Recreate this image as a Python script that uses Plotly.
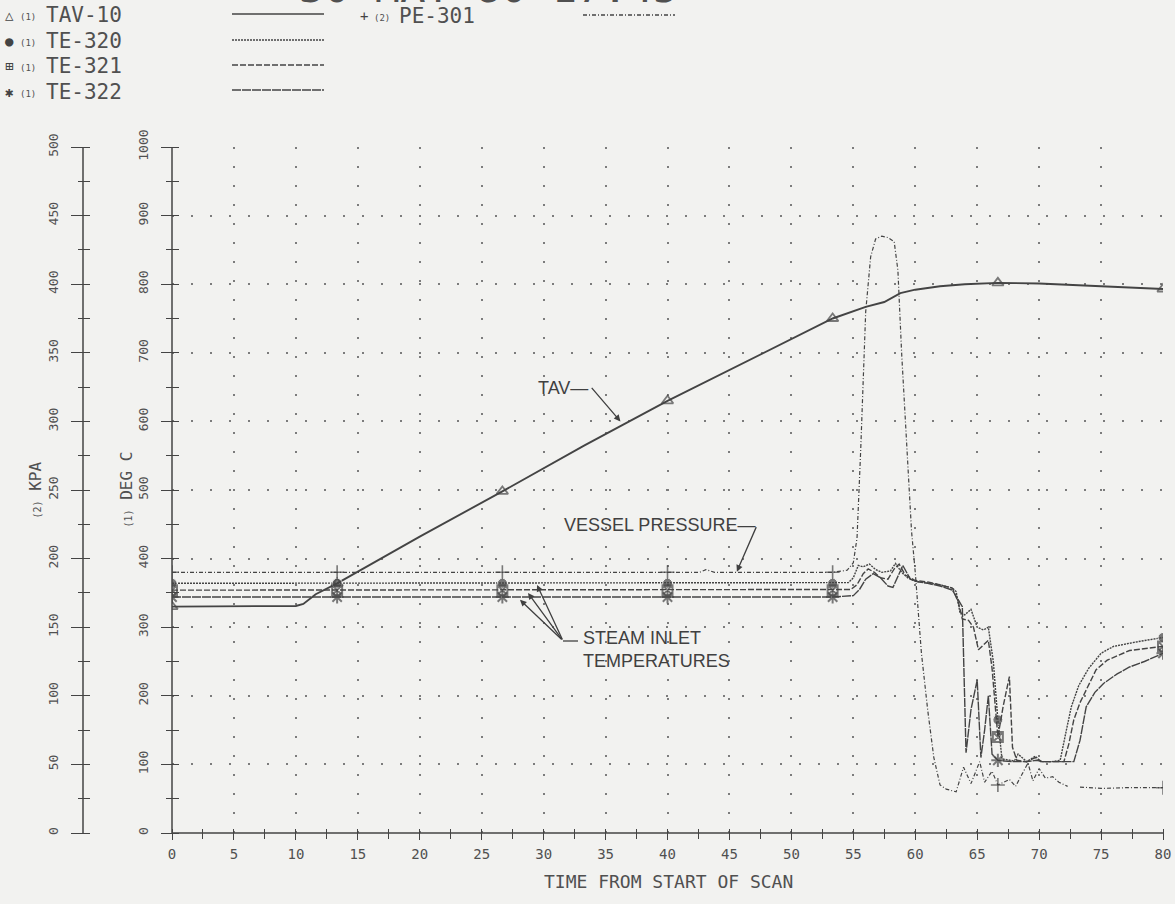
import plotly.graph_objects as go

W, H = 1175, 904

# ---------------- data ----------------
MARK_T = [0, 13.33, 26.67, 40, 53.33, 66.67, 80]

tav_t = [0, 5, 10, 10.6, 11.6, 13.33, 20, 26.67, 33.3, 40, 46.7, 53.33, 56.0, 57.5,
         58.8, 60.0, 62.0, 64.0, 66.67, 70.0, 75.0, 80]
tav_v = [330, 330, 331, 334, 348, 364, 432, 498, 565, 630, 690, 750, 767, 774,
         787, 792, 797, 800, 802, 801, 797, 793]

te320_t = [0, 13.33, 26.67, 40, 53.33, 54.6, 55.0, 55.4, 55.8, 56.3, 56.8, 57.3, 58.0,
           58.4, 58.9, 59.4, 60.0, 61.0, 62.0, 63.0, 63.3, 63.6, 64.0, 64.5, 65.0, 65.5,
           65.9, 66.3, 66.67, 67.0, 67.5, 68.0, 68.3, 69.0, 69.7, 70.1, 71.0, 71.7, 72.2,
           72.6, 73.2, 74.0, 75.0, 76.0, 78.0, 80]
te320_v = [364, 364, 364, 364, 364, 365, 372, 390, 388, 392, 384, 380, 382,
           393, 380, 372, 367, 365, 362, 357, 352, 322, 318, 326, 300, 296,
           300, 250, 165, 108, 106, 105, 115, 104, 112, 104, 104, 106, 150,
           184, 215, 240, 262, 272, 279, 285]

te321_t = [0, 13.33, 26.67, 40, 53.33, 54.8, 55.3, 55.8, 56.2, 56.7, 57.2, 57.8, 58.3,
           58.7, 59.2, 60.0, 61.0, 62.0, 63.0, 63.5, 63.8, 64.3, 64.7, 65.1, 65.6, 65.9,
           66.2, 66.67, 67.1, 67.6, 67.85, 68.2, 69.0, 69.7, 70.2, 71.0, 72.0, 72.4,
           72.8, 73.3, 74.0, 74.6, 75.5, 77.3, 80]
te321_v = [354, 354, 354, 354, 354, 355, 362, 378, 385, 380, 372, 370, 385,
           392, 376, 368, 366, 362, 357, 335, 312, 310, 300, 267, 275, 281,
           240, 140, 185, 228, 125, 106, 104, 110, 104, 104, 104, 130,
           165, 190, 215, 238, 252, 266, 272]

te322_t = [0, 13.33, 26.67, 40, 53.33, 55.0, 55.5, 56.0, 56.6, 57.2, 57.8, 58.2, 58.6,
           59.0, 59.6, 60.2, 61.0, 62.0, 63.0, 63.5, 63.8, 64.1, 64.5, 65.0, 65.3, 65.6,
           65.9, 66.2, 66.67, 67.2, 68.0, 69.0, 69.8, 70.3, 71.0, 72.0, 72.8, 73.3,
           73.8, 74.5, 75.2, 76.3, 77.3, 78.5, 80]
te322_v = [344, 344, 344, 344, 344, 346, 355, 370, 378, 372, 360, 358, 375,
           390, 370, 366, 364, 360, 354, 340, 330, 117, 180, 223, 110, 150,
           200, 115, 106, 105, 104, 104, 106, 104, 104, 104, 104, 135,
           184, 205, 218, 232, 242, 250, 262]

# vessel pressure, kPa
pe301_t = [0, 13.33, 26.67, 40, 42.6, 43.1, 43.8, 53.33, 54.5, 55.0, 55.3, 55.6, 56.0,
           56.4, 56.8, 57.3, 57.8, 58.3, 58.6, 58.9, 59.3, 59.7, 60.0, 60.5, 61.0,
           61.5, 62.0, 62.5, 63.3, 63.9, 64.5, 65.2, 65.6, 66.2, 66.67, 67.6, 68.1,
           69.1, 69.5, 70.0, 70.5, 71.1, 71.6, 72.3, 72.8, 73.3, 75.0, 77.0, 80]
pe301_v = [190, 190, 190, 190, 190, 192, 190, 190, 191.5, 197, 215, 280, 380,
           420, 433, 435, 434, 431, 410, 350, 280, 220, 190, 131, 90,
           55, 35, 32, 30, 48, 36, 52, 37, 45, 35, 39, 34,
           51, 38, 47, 40, 41, 37, 34, None, 33.5, 32.5, 33, 33]

LEGEND_ROWS = [("△", "(1)", "TAV-10"), ("●", "(1)", "TE-320"),
               ("⊞", "(1)", "TE-321"), ("✱", "(1)", "TE-322")]
X_TITLE = "TIME FROM START OF SCAN"
CHART_TITLE = "30 MAY 80 17:45"

# ---------------- style ----------------
INK = "#444444"
TXT = "#505050"
BG = "#f2f2f0"
MONO = "DejaVu Sans Mono"
SANS = "Liberation Sans"

# pixel geometry of the frame
X0_PX, X1_PX = 172, 1163      # time 0 .. 80
Y0_PX, Y1_PX = 833, 147       # value 0 .. top
KPA_PX = 83                   # left (kPa) axis line


def msizes(ts, size):
    return [size if t in MARK_T else 0 for t in ts]


def px(x):
    return x / W


def py(y):
    return 1 - y / H


fig = go.Figure()

fig.add_trace(go.Scatter(x=tav_t, y=tav_v, mode="lines+markers", name="TAV-10",
                         line=dict(color=INK, width=1.9),
                         marker=dict(symbol="triangle-up-open", size=msizes(tav_t, 10),
                                     color=INK, line=dict(width=1.8, color=INK))))
fig.add_trace(go.Scatter(x=te320_t, y=te320_v, mode="lines+markers", name="TE-320",
                         line=dict(color=INK, width=1.4, dash="2px,1px"),
                         marker=dict(symbol="circle", size=msizes(te320_t, 10),
                                     color=INK)))
fig.add_trace(go.Scatter(x=te321_t, y=te321_v, mode="lines+markers", name="TE-321",
                         line=dict(color=INK, width=1.4, dash="6px,2px"),
                         marker=dict(symbol="square-x-open", size=msizes(te321_t, 10),
                                     color=INK, line=dict(width=2, color=INK))))
fig.add_trace(go.Scatter(x=te322_t, y=te322_v, mode="lines+markers", name="TE-322",
                         line=dict(color=INK, width=1.4, dash="9px,1px"),
                         marker=dict(symbol="asterisk-open", size=msizes(te322_t, 11),
                                     color=INK, line=dict(width=2, color=INK))))
fig.add_trace(go.Scatter(x=pe301_t, y=pe301_v, mode="lines+markers", name="PE-301",
                         yaxis="y2", connectgaps=False,
                         line=dict(color=INK, width=1.2, dash="4px,2px,1px,2px"),
                         marker=dict(symbol="cross-thin-open", size=msizes(pe301_t, 10),
                                     color=INK, line=dict(width=1.6, color=INK))))

XD = [px(X0_PX), px(X1_PX)]
YD = [py(Y0_PX), py(Y1_PX)]
grid = dict(showgrid=True, gridcolor="#7c7c7c", gridwidth=1.7, griddash="2px,17px")
tickc = dict(tickcolor=INK, tickwidth=1.3)
tfont = dict(family=MONO, size=13, color=TXT)

# axes are placed a few pixels off their drawn line so that their (outside)
# tick marks straddle the line, like the plotter's crossing ticks
fig.update_layout(
    width=W, height=H, margin=dict(l=0, r=0, t=0, b=0, autoexpand=False),
    paper_bgcolor=BG, plot_bgcolor=BG, showlegend=False,
    xaxis=dict(domain=XD, range=[0, 80], anchor="free", position=py(Y0_PX - 5),
               dtick=5, tick0=0, automargin=False, showline=False, zeroline=False,
               ticks="outside", ticklen=11, **tickc,
               tickfont=dict(family=MONO, size=14, color=TXT), ticklabelstandoff=2,
               minor=dict(dtick=2.5, ticks="outside", ticklen=10, tickcolor=INK, showgrid=False),
               **grid),
    yaxis=dict(domain=YD, range=[0, 1000], anchor="free", position=px(X0_PX + 7),
               dtick=100, tick0=0, automargin=False, tickangle=-90, showline=False,
               zeroline=False, ticks="outside", ticklen=18, **tickc, tickfont=tfont,
               ticklabelstandoff=8,
               minor=dict(dtick=50, ticks="outside", ticklen=13, tickcolor=INK, showgrid=False),
               **grid),
    yaxis2=dict(overlaying="y", range=[0, 500], anchor="free", position=px(KPA_PX + 7),
                side="left", automargin=False, dtick=50, tick0=0, tickangle=-90,
                showline=False, zeroline=False, showgrid=False,
                ticks="outside", ticklen=19, **tickc, tickfont=tfont, ticklabelstandoff=8,
                minor=dict(dtick=25, ticks="outside", ticklen=12, tickcolor=INK)),
)

ann = []
# top (cut-off) chart title
ann.append(dict(text=CHART_TITLE, xref="paper", yref="paper", x=px(488), y=py(-13),
                xanchor="center", yanchor="middle", showarrow=False,
                font=dict(family=MONO, size=42, color=TXT)))
# legend
row_y = [15, 41, 66, 92]
for (sym, idx, name), yy in zip(LEGEND_ROWS, row_y):
    ann.append(dict(text=sym, xref="paper", yref="paper", x=px(9), y=py(yy), xanchor="center",
                    yanchor="middle", showarrow=False, font=dict(family=MONO, size=14, color=INK)))
    ann.append(dict(text=idx, xref="paper", yref="paper", x=px(18), y=py(yy + 2), xanchor="left",
                    yanchor="middle", showarrow=False, font=dict(family=MONO, size=9, color=TXT)))
    ann.append(dict(text=name, xref="paper", yref="paper", x=px(44), y=py(yy), xanchor="left",
                    yanchor="middle", showarrow=False, font=dict(family=MONO, size=21, color=TXT)))
ann.append(dict(text="+", xref="paper", yref="paper", x=px(364), y=py(16), xanchor="center",
                yanchor="middle", showarrow=False, font=dict(family=MONO, size=14, color=INK)))
ann.append(dict(text="(2)", xref="paper", yref="paper", x=px(372), y=py(18), xanchor="left",
                yanchor="middle", showarrow=False, font=dict(family=MONO, size=9, color=TXT)))
ann.append(dict(text="PE-301", xref="paper", yref="paper", x=px(397), y=py(16), xanchor="left",
                yanchor="middle", showarrow=False, font=dict(family=MONO, size=21, color=TXT)))

# axis titles
ann.append(dict(text="<span style='font-size:10px'>(2)</span> KPA", xref="paper", yref="paper",
                x=px(23), y=py(490), textangle=-90, showarrow=False,
                font=dict(family=MONO, size=16, color=TXT)))
ann.append(dict(text="<span style='font-size:10px'>(1)</span> DEG C", xref="paper", yref="paper",
                x=px(114), y=py(490), textangle=-90, showarrow=False,
                font=dict(family=MONO, size=16, color=TXT)))
ann.append(dict(text=X_TITLE, xref="paper", yref="paper", x=px(668), y=py(894), showarrow=False,
                font=dict(family=MONO, size=18, color=TXT)))

# callouts
lab = dict(family=SANS, size=18, color="#404040")
ann.append(dict(text="TAV—", x=33.75, y=649, xanchor="right", showarrow=False, font=lab))
ann.append(dict(text="", x=36.2, y=600, ax=-30, ay=-35, showarrow=True, arrowhead=2,
                arrowsize=1, arrowwidth=1.3, arrowcolor="#404040"))
ann.append(dict(text="VESSEL PRESSURE—", x=47.2, y=449, xanchor="right", showarrow=False, font=lab))
ann.append(dict(text="", x=45.6, y=381, ax=20, ay=-46, showarrow=True, arrowhead=2,
                arrowsize=1, arrowwidth=1.3, arrowcolor="#404040"))
ann.append(dict(text="STEAM INLET<br>TEMPERATURES", x=33.0, y=268, xanchor="left",
                yanchor="middle", align="left", showarrow=False, font=lab))
for tx, ty, ax_, ay_ in [(28.09, 340, 43, 41), (28.74, 350, 35, 48), (29.47, 361.5, 26, 56)]:
    ann.append(dict(text="", x=tx, y=ty, ax=ax_, ay=ay_, showarrow=True, arrowhead=2,
                    arrowsize=1, arrowwidth=1.3, arrowcolor="#404040"))
fig.update_layout(annotations=ann)

shapes = []
# axis lines (drawn where the tick marks cross)
axl = dict(color=INK, width=1.5)
shapes.append(dict(type="line", xref="paper", yref="paper", x0=px(X0_PX), x1=px(X0_PX),
                   y0=py(Y0_PX), y1=py(Y1_PX), line=axl))
shapes.append(dict(type="line", xref="paper", yref="paper", x0=px(KPA_PX), x1=px(KPA_PX),
                   y0=py(Y0_PX), y1=py(Y1_PX), line=axl))
shapes.append(dict(type="line", xref="paper", yref="paper", x0=px(X0_PX), x1=px(X1_PX),
                   y0=py(Y0_PX), y1=py(Y0_PX), line=axl))
# legend line samples
samples = [(14, "solid"), (40, "2px,1px"), (65, "6px,2px"), (90, "9px,1px")]
for yy, dsh in samples:
    shapes.append(dict(type="line", xref="paper", yref="paper", x0=px(232), x1=px(324),
                       y0=py(yy), y1=py(yy), line=dict(color=INK, width=1.5, dash=dsh)))
shapes.append(dict(type="line", xref="paper", yref="paper", x0=px(583), x1=px(675),
                   y0=py(15), y1=py(15), line=dict(color=INK, width=1.3, dash="4px,2px,1px,2px")))
# short lead line of the steam-inlet callout
shapes.append(dict(type="line", xref="paper", yref="paper", x0=px(563), x1=px(578),
                   y0=py(641), y1=py(641), line=dict(color="#404040", width=1.3)))
fig.update_layout(shapes=shapes)

fig.write_html("out.html", config={"displayModeBar": False},
               post_script="document.body.style.margin='0';document.body.style.overflow='hidden';")
